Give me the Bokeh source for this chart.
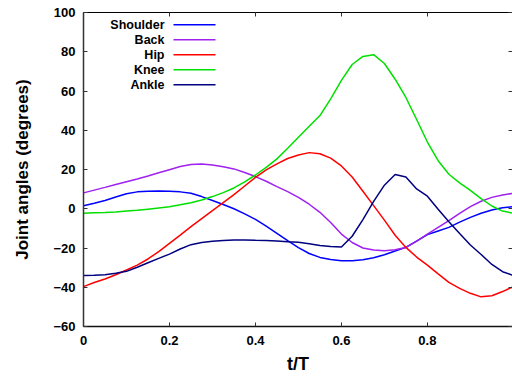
from bokeh.plotting import figure
from bokeh.models import LinearAxis, FixedTicker, Label, Arrow, Range1d
from bokeh.embed import file_html
from bokeh.resources import INLINE

# ---- data ----
t = [0.0, 0.025, 0.05, 0.075, 0.1, 0.125, 0.15, 0.175, 0.2, 0.225, 0.25, 0.275,
     0.3, 0.325, 0.35, 0.375, 0.4, 0.425, 0.45, 0.475, 0.5, 0.525, 0.55, 0.575,
     0.6, 0.625, 0.65, 0.675, 0.7, 0.725, 0.75, 0.775, 0.8, 0.825, 0.85, 0.875,
     0.9, 0.925, 0.95, 0.975, 1.0]

shoulder = [1.5, 2.8, 4.2, 6.0, 7.6, 8.6, 8.9, 9.0, 8.9, 8.6, 7.9, 6.2,
            4.2, 2.2, 0.0, -2.6, -5.4, -8.8, -12.5, -16.2, -19.8, -22.8, -24.8, -25.9,
            -26.5, -26.5, -26.0, -25.0, -23.4, -21.5, -19.7, -16.5, -13.2, -11.3, -9.5, -6.8,
            -4.4, -2.3, -0.6, 0.5, 1.1]

back = [8.1, 9.5, 10.9, 12.4, 13.8, 15.2, 16.7, 18.3, 19.9, 21.5, 22.6, 22.8,
        22.3, 21.4, 20.3, 18.5, 16.4, 14.0, 11.3, 8.7, 5.8, 2.3, -1.8, -7.0,
        -12.9, -17.2, -20.0, -21.0, -21.4, -20.9, -19.7, -16.5, -12.9, -9.5, -6.1, -2.3,
        1.1, 3.8, 5.8, 7.0, 7.9]

hip = [-39.7, -37.6, -35.8, -33.6, -31.2, -28.7, -25.6, -21.8, -17.6, -13.4, -9.1, -5.0,
       -1.0, 3.1, 7.2, 11.6, 16.0, 19.8, 22.9, 25.6, 27.4, 28.6, 28.0, 25.8,
       21.8, 16.2, 8.9, 1.6, -5.8, -13.5, -19.7, -24.6, -28.7, -33.2, -37.5, -40.6,
       -43.1, -44.9, -44.3, -42.2, -39.7]

knee = [-2.3, -2.1, -1.9, -1.6, -1.2, -0.8, -0.2, 0.4, 1.0, 2.0, 3.1, 4.5,
        6.2, 8.2, 10.6, 13.7, 17.2, 21.1, 25.4, 30.8, 36.4, 42.0, 47.5, 56.0,
        65.4, 73.5, 77.6, 78.5, 74.0, 66.0, 56.7, 45.5, 34.0, 24.5, 17.6, 13.2,
        9.4, 5.2, 1.4, -1.2, -2.3]

ankle = [-34.0, -33.9, -33.6, -32.9, -31.9, -29.8, -27.5, -25.3, -23.1, -20.5, -18.3, -17.2,
         -16.6, -16.2, -15.9, -15.9, -16.1, -16.2, -16.4, -16.8, -17.1, -17.8, -18.7, -19.2,
         -19.5, -14.0, -5.5, 3.8, 12.0, 17.5, 16.2, 10.1, 6.4, -0.3, -6.6, -12.6,
         -18.5, -23.3, -28.4, -32.1, -34.0]

names = ["Shoulder", "Back", "Hip", "Knee", "Ankle"]
series = [shoulder, back, hip, knee, ankle]
colors = ["#0000ff", "#a020f0", "#ff0000", "#00e000", "#000080"]

xticks = [0, 0.2, 0.4, 0.6, 0.8]
xtick_labels = ["0", "0.2", "0.4", "0.6", "0.8"]
yticks = [-60, -40, -20, 0, 20, 40, 60, 80, 100]
ytick_labels = ["\u221260", "\u221240", "\u221220", "0", "20", "40", "60", "80", "100"]

FONT = "Liberation Sans"

W, H = 512, 379
BL, BT, BB = 83, 12, 53

p = figure(width=W, height=H, output_backend="svg", toolbar_location=None,
           x_range=Range1d(0, 0.998), y_range=Range1d(-60, 100),
           min_border_left=BL, min_border_right=0, min_border_top=BT, min_border_bottom=BB,
           x_axis_label="t/T", y_axis_label="Joint angles (degrees)")
p.outline_line_color = None
p.grid.visible = False
p.background_fill_color = "white"
p.border_fill_color = "white"

for name, ys, c in zip(names, series, colors):
    p.line(t, ys, line_color=c, line_width=1.5)

def style_axis(ax, ticks, labels, show_labels=True):
    ax.ticker = FixedTicker(ticks=ticks)
    ax.minor_tick_line_color = None
    ax.major_tick_in = 4
    ax.major_tick_out = 0
    ax.major_tick_line_color = "#333333"
    ax.major_tick_line_width = 1
    if show_labels:
        ax.major_label_overrides = {k: v for k, v in zip(ticks, labels)}
        ax.major_label_text_font = FONT
        ax.major_label_text_font_style = "bold"
        ax.major_label_text_font_size = "13px"
        ax.major_label_text_color = "black"
    else:
        ax.major_label_text_font_size = "1px"
        ax.major_label_text_color = None
        ax.major_label_standoff = 0

xa = p.xaxis[0]
ya = p.yaxis[0]
style_axis(xa, xticks, xtick_labels)
style_axis(ya, yticks, ytick_labels)
xa.axis_line_color = "#111111"
xa.axis_line_width = 1.5
ya.axis_line_color = "#333333"
ya.axis_line_width = 1.5
xa.major_label_standoff = 9
ya.major_label_standoff = 8
for ax in (xa, ya):
    ax.axis_label_text_font = FONT
    ax.axis_label_text_font_style = "bold"
    ax.axis_label_text_color = "black"
xa.axis_label_text_font_size = "18px"
xa.axis_label_standoff = 6
ya.axis_label_text_font_size = "17px"
ya.axis_label_standoff = 18

top = LinearAxis()
style_axis(top, xticks, xtick_labels, show_labels=False)
top.axis_line_color = "black"
top.axis_line_width = 1
p.add_layout(top, "above")

right = LinearAxis()
style_axis(right, yticks, ytick_labels, show_labels=False)
right.axis_line_color = None
p.add_layout(right, "right")

# legend (text right-aligned, sample line to the right); screen units are
# measured from the frame's bottom-left corner
frame_bottom = H - BB
row_y = [24.3, 39.3, 54.3, 69.3, 84.3]
for name, c, ry in zip(names, colors, row_y):
    sy = frame_bottom - ry
    p.add_layout(Label(x=164 - BL, y=sy, x_units="screen", y_units="screen", text=name,
                       text_align="right", text_baseline="middle",
                       text_font=FONT, text_font_style="bold", text_font_size="12.5px",
                       text_color="black"))
    p.add_layout(Arrow(x_start=173 - BL, y_start=sy, x_end=215 - BL, y_end=sy,
                       start_units="screen", end_units="screen", end=None,
                       line_color=c, line_width=1.5))

open("out.html", "w").write(file_html(p, INLINE))
